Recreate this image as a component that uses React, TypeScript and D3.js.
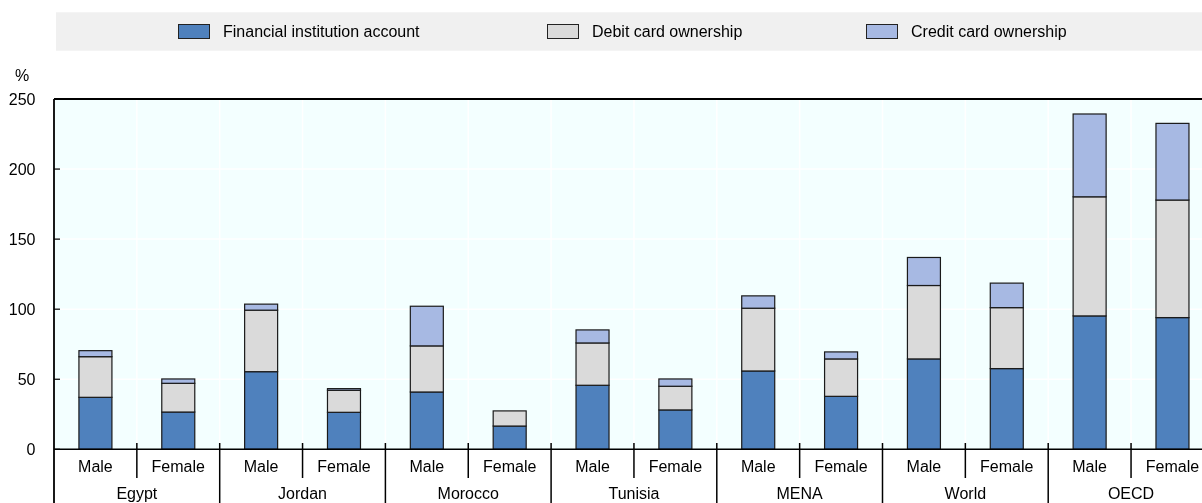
import React from "react";
import * as d3 from "d3";

const countries = ["Egypt", "Jordan", "Morocco", "Tunisia", "MENA", "World", "OECD"];
const genders = ["Male", "Female"];
const seriesNames = ["Financial institution account", "Debit card ownership", "Credit card ownership"];
const account = [37.1, 26.6, 55.4, 26.4, 40.9, 16.6, 45.7, 28.1, 55.9, 37.8, 64.5, 57.6, 95.2, 94.0];
const debit = [29.0, 20.5, 43.9, 15.7, 32.9, 10.8, 30.2, 16.9, 44.8, 26.7, 52.4, 43.5, 85.0, 83.9];
const credit = [4.3, 3.1, 4.3, 1.2, 28.3, 0, 9.3, 5.2, 8.8, 5.0, 20.0, 17.5, 59.1, 54.7];
const yTicks = [0, 50, 100, 150, 200, 250];

const colors = ["#4F81BD", "#DADADA", "#A7B9E3"];
const FONT = "'Liberation Sans', Arial, sans-serif";

export default function App() {
  const W = 1202, H = 503;
  const left = 54;
  const slot = 82.85;
  const top = 99, bottom = 449.3;
  const slots = countries.flatMap((c) => genders.map((g) => `${c}|${g}`));
  const x = d3.scaleBand<string>().domain(slots).range([left, left + slot * slots.length]).padding(0);
  const y = d3.scaleLinear().domain([0, 250]).range([bottom, top]);
  const barW = 33;

  const stackData = slots.map((s, i) => ({ key: s, a: account[i], d: debit[i], c: credit[i] }));
  const stack = d3.stack<any>().keys(["a", "d", "c"])(stackData);

  const legendX = [178, 547, 866];
  const plotRight = left + slot * slots.length;

  return (
    <div style={{ position: "fixed", left: 0, top: 0 }}>
      <svg width={W} height={H} style={{ display: "block", fontFamily: FONT }}>
        {/* legend band */}
        <rect x={56} y={12.3} width={W - 56} height={38.4} fill="#F0F0F0" />
        {seriesNames.map((n, i) => (
          <g key={n}>
            <rect x={legendX[i] + 0.5} y={24.5} width={31} height={14} fill={colors[i]} stroke="#222" strokeWidth={1} />
            <text x={legendX[i] + 45} y={37} fontSize={16} fill="#000">{n}</text>
          </g>
        ))}

        {/* plot background */}
        <rect x={left} y={top} width={plotRight - left} height={bottom - top} fill="#F3FFFF" />
        {yTicks.slice(1, -1).map((t) => (
          <line key={t} x1={left} x2={plotRight} y1={y(t)} y2={y(t)} stroke="#FFFFFF" strokeWidth={1.5} />
        ))}
        {slots.slice(1).map((s) => (
          <line key={s} x1={x(s)!} x2={x(s)!} y1={top} y2={bottom} stroke="#FFFFFF" strokeWidth={1.5} />
        ))}

        {/* bars */}
        {stack.map((layer, li) => (
          <g key={li}>
            {layer.map((d, i) => {
              const h = y(d[0]) - y(d[1]);
              if (h <= 0.01) return null;
              const cx = x(slots[i])! + slot / 2;
              return (
                <rect key={i} x={cx - barW / 2} y={y(d[1])} width={barW} height={h}
                  fill={colors[li]} stroke="#1A1A1A" strokeWidth={1.2} />
              );
            })}
          </g>
        ))}

        {/* top border */}
        <line x1={left} x2={W} y1={top} y2={top} stroke="#000" strokeWidth={2} />
        {/* left axis */}
        <line x1={left} x2={left} y1={top} y2={H} stroke="#000" strokeWidth={1.8} />
        {/* x axis */}
        <line x1={left} x2={W} y1={bottom} y2={bottom} stroke="#000" strokeWidth={1.5} />

        {/* y ticks */}
        {yTicks.map((t) => (
          <g key={t}>
            <line x1={left} x2={left + 6} y1={y(t)} y2={y(t)} stroke="#000" strokeWidth={1.2} />
            <text x={35.5} y={y(t) + 6} fontSize={16} textAnchor="end" fill="#000">{t}</text>
          </g>
        ))}
        <text x={22} y={80.5} fontSize={16} textAnchor="middle" fill="#000">%</text>

        {/* x separators */}
        {slots.slice(1).map((s, i) => {
          const isGroup = (i + 1) % 2 === 0;
          return (
            <line key={s} x1={x(s)!} x2={x(s)!} y1={443} y2={isGroup ? H : 478} stroke="#000" strokeWidth={1.5} />
          );
        })}
        {slots.map((s) => (
          <text key={s} x={x(s)! + slot / 2} y={471.5} fontSize={16} textAnchor="middle" fill="#000">
            {s.split("|")[1]}
          </text>
        ))}
        {countries.map((c) => (
          <text key={c} x={x(`${c}|Male`)! + slot} y={498.5} fontSize={16} textAnchor="middle" fill="#000">{c}</text>
        ))}
      </svg>
    </div>
  );
}
